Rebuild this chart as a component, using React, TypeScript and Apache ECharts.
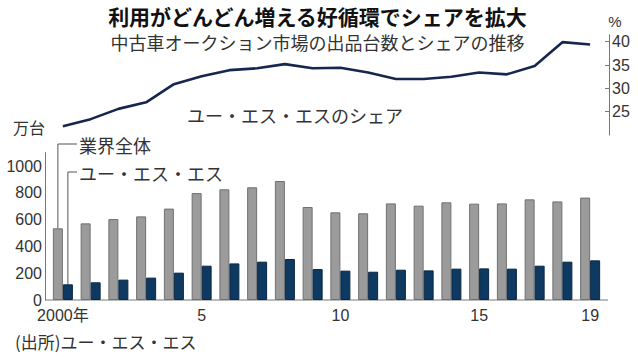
import React, { useEffect, useRef } from 'react';
import * as echarts from 'echarts';

const years = ['2000', '2001', '2002', '2003', '2004', '2005', '2006', '2007', '2008', '2009', '2010', '2011', '2012', '2013', '2014', '2015', '2016', '2017', '2018', '2019'];
const industryTotal = [535, 572, 604, 624, 682, 798, 826, 841, 888, 694, 654, 647, 721, 704, 729, 719, 721, 751, 736, 764];
const ussUnits = [117, 132, 152, 167, 204, 256, 273, 286, 306, 231, 219, 211, 226, 221, 234, 236, 234, 256, 286, 296];
const ussShare = [21.9, 23.4, 25.6, 27.0, 30.9, 32.6, 33.9, 34.3, 35.2, 34.3, 34.4, 33.4, 32.0, 32.0, 32.5, 33.4, 33.0, 34.8, 39.9, 39.4];
const unitTicks = [0, 200, 400, 600, 800, 1000];
const shareTicks = [25, 30, 35, 40];
const yearLabelIdx = [0, 5, 10, 15, 19];

const NUM_FONT = "'Liberation Sans Narrow', 'Liberation Sans', 'Noto Sans CJK JP', sans-serif";
const JP_FONT = "'Noto Sans CJK JP', sans-serif";
const TEXT = '#333';
const AXIS = '#777';

export default function App() {
  const ref = useRef<HTMLDivElement>(null);
  useEffect(() => {
    if (!ref.current) return;
    const chart = echarts.init(ref.current, null, { renderer: 'svg' });
    const G0 = { left: 49, right: 34, top: 152.6, height: 147.4 };
    const G1 = { left: 49, right: 34, top: 34.7, height: 100.3 };
    chart.setOption({
      animation: false,
      grid: [G0, G1],
      xAxis: [
        {
          type: 'category', gridIndex: 0, data: years,
          axisLine: { show: false }, axisTick: { show: false },
          axisLabel: {
            interval: (i: number) => yearLabelIdx.includes(i),
            formatter: (v: string, i: number) => (i === 0 ? v + '年' : String(Number(v) - 2000)),
            margin: 7, fontSize: 16, lineHeight: 16, color: TEXT, fontFamily: NUM_FONT,
          },
        },
        { type: 'category', gridIndex: 1, data: years, show: false },
      ],
      yAxis: [
        {
          type: 'value', gridIndex: 0, min: 0, max: 1100, offset: 4,
          axisLine: { show: true, lineStyle: { color: AXIS, width: 1 } },
          axisTick: { show: false }, splitLine: { show: false },
          axisLabel: {
            customValues: unitTicks, formatter: (v: number) => String(v),
            margin: 3, fontSize: 16, lineHeight: 14, color: TEXT, fontFamily: NUM_FONT,
          },
        },
        {
          type: 'value', gridIndex: 1, position: 'right', min: 20, max: 41.5, offset: 5,
          axisLine: { show: true, lineStyle: { color: AXIS, width: 1 } },
          axisTick: { show: true, inside: true, length: 4, customValues: shareTicks, lineStyle: { color: AXIS } },
          splitLine: { show: false },
          axisLabel: {
            customValues: shareTicks, formatter: (v: number) => String(v),
            margin: 3, fontSize: 16, lineHeight: 14, color: TEXT, fontFamily: NUM_FONT,
          },
        },
      ],
      series: [
        {
          type: 'bar', name: '業界全体', xAxisIndex: 0, yAxisIndex: 0, data: industryTotal,
          barWidth: 10, barGap: '0%',
          itemStyle: { color: '#9b9b9b', borderColor: '#707070', borderWidth: 1 },
        },
        {
          type: 'bar', name: 'ユー・エス・エス', xAxisIndex: 0, yAxisIndex: 0, data: ussUnits,
          barWidth: 10, barGap: '0%',
          itemStyle: { color: '#0e3a61', borderColor: '#0a2745', borderWidth: 1 },
        },
        {
          type: 'line', name: 'ユー・エス・エスのシェア', xAxisIndex: 1, yAxisIndex: 1, data: ussShare,
          showSymbol: false, lineStyle: { color: '#15264f', width: 2.6 },
        },
      ],
    });

    const pGray = chart.convertToPixel({ gridIndex: 0 }, [0, industryTotal[0]]) as number[];
    const pNavy = chart.convertToPixel({ gridIndex: 0 }, [0, ussUnits[0]]) as number[];
    const pZero = chart.convertToPixel({ gridIndex: 0 }, [0, 0]) as number[];
    const axisLeft = G0.left - 4;
    const axisRight = 638 - G0.right + 4;
    const lead = { stroke: '#555', lineWidth: 1, fill: 'none' };
    const txt = (x: number, y: number, text: string, size: number, extra: any = {}) => ({
      type: 'text', x, y,
      style: { text, fontSize: size, lineHeight: size, fontFamily: JP_FONT, fill: TEXT, textVerticalAlign: 'middle', ...extra },
    });

    chart.setOption({
      graphic: [
        { type: 'line', shape: { x1: axisLeft, y1: pZero[1], x2: axisRight, y2: pZero[1] }, style: { stroke: AXIS, lineWidth: 1 } },
        { type: 'polyline', shape: { points: [[pGray[0] - 5, pGray[1]], [pGray[0] - 5, 144], [77, 144]] }, style: lead },
        { type: 'polyline', shape: { points: [[pNavy[0] + 5, pNavy[1]], [pNavy[0] + 5, 172], [77, 172]] }, style: lead },
        txt(79, 145, '業界全体', 18),
        txt(79, 173, 'ユー・エス・エス', 18),
        txt(187, 115, 'ユー・エス・エスのシェア', 18),
        txt(13, 127, '万台', 16),
        txt(15, 341, '(出所)ユー・エス・エス', 17),
        txt(317.5, 15.5, '利用がどんどん増える好循環でシェアを拡大', 21, { fontWeight: 'bold', fill: '#111', textAlign: 'center' }),
        txt(317.5, 41.5, '中古車オークション市場の出品台数とシェアの推移', 18, { textAlign: 'center' }),
        { type: 'text', x: 615, y: 21, style: { text: '%', fontSize: 15, lineHeight: 14, fontFamily: NUM_FONT, fill: TEXT, textAlign: 'center', textVerticalAlign: 'middle' } },
      ],
    });
    return () => chart.dispose();
  }, []);
  return <div ref={ref} style={{ position: 'absolute', left: 0, top: 0, width: 638, height: 357 }} />;
}
